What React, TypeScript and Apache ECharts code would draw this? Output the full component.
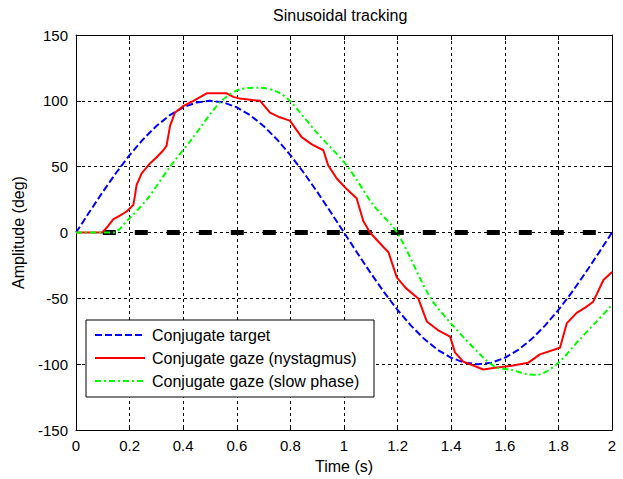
import React, { useEffect, useRef } from "react";
import * as echarts from "echarts";

const TITLE = "Sinusoidal tracking";
const X_LABEL = "Time (s)";
const Y_LABEL = "Amplitude (deg)";
const SERIES_NAMES = [
  "Conjugate target",
  "Conjugate gaze (nystagmus)",
  "Conjugate gaze (slow phase)",
];

const X_MIN = 0;
const X_MAX = 2;
const X_STEP = 0.2;
const Y_MIN = -150;
const Y_MAX = 150;
const Y_STEP = 50;

const targetTime = [
  0, 0.05, 0.1, 0.15, 0.2, 0.25, 0.3, 0.35, 0.4, 0.45, 0.5, 0.55, 0.6, 0.65, 0.7, 0.75, 0.8, 0.85, 0.9, 0.95, 1,
  1.05, 1.1, 1.15, 1.2, 1.25, 1.3, 1.35, 1.4, 1.45, 1.5, 1.55, 1.6, 1.65, 1.7, 1.75, 1.8, 1.85, 1.9, 1.95, 2,
];
const targetValue = [
  0, 15.6, 30.9, 45.4, 58.8, 70.7, 80.9, 89.1, 95.1, 98.8, 100, 98.8, 95.1, 89.1, 80.9, 70.7, 58.8, 45.4, 30.9, 15.6, 0,
  -15.6, -30.9, -45.4, -58.8, -70.7, -80.9, -89.1, -95.1, -98.8, -100, -98.8, -95.1, -89.1, -80.9, -70.7, -58.8, -45.4, -30.9, -15.6, 0,
];

const nystagmusTime = [
  0, 0.098, 0.12, 0.139, 0.165, 0.189, 0.214, 0.22, 0.226, 0.245, 0.276, 0.3, 0.326, 0.338, 0.351, 0.369, 0.4, 0.438,
  0.488, 0.562, 0.587, 0.612, 0.687, 0.724, 0.76, 0.798, 0.842, 0.88, 0.923, 0.941, 0.973, 1.01, 1.047, 1.072, 1.097,
  1.147, 1.166, 1.197, 1.23, 1.277, 1.309, 1.35, 1.396, 1.414, 1.445, 1.52, 1.57, 1.63, 1.688, 1.731, 1.806, 1.831,
  1.868, 1.9, 1.93, 1.968, 2,
];
const nystagmusValue = [
  0, 0, 5, 10, 13, 16, 21, 28, 36, 45, 52.5, 57, 62.5, 66, 81, 91, 96, 100,
  105.7, 105.7, 103, 101.7, 100, 91, 87.5, 85, 72.5, 67, 62.5, 51, 41, 33, 26, 8.7, 0,
  -11, -15, -34, -42, -50, -67.5, -74, -79, -91, -98, -104, -102.5, -101, -98.8, -92.5, -87.5, -69,
  -61, -57, -52.5, -36, -30,
];

const slowTime = [
  0, 0.14, 0.189, 0.264, 0.351, 0.438, 0.537, 0.612, 0.687, 0.75, 0.798, 0.898, 1.01, 1.109, 1.198,
  1.321, 1.408, 1.52, 1.57, 1.62, 1.682, 1.72, 1.794, 1.88, 1.94, 2,
];
const slowValue = [
  0, 0, 8.7, 25, 50, 72.5, 98.8, 108.8, 110, 107, 100, 76, 51, 21, 0,
  -49, -71, -95, -102.5, -104, -107.5, -108, -100, -81, -68, -55,
];

const baselineTime = [0.1, 2];
const baselineValue = [0, 0];

const FONT = '"Liberation Sans", Arial, Helvetica, sans-serif';

const pairs = (xs: number[], ys: number[]) => xs.map((x, i) => [x, ys[i]]);
const fmtX = (v: number) => String(Math.round(v * 10) / 10);

export default function App() {
  const ref = useRef<HTMLDivElement>(null);

  useEffect(() => {
    if (!ref.current) return;
    const chart = echarts.init(ref.current, undefined, { renderer: "svg" });

    const gridLine = { show: true, lineStyle: { color: "#000", width: 1, type: [3, 3] as any } };
    const axisLine = { show: true, onZero: false, lineStyle: { color: "#000", width: 1 } };
    const tick = { show: true, inside: true, length: 5, lineStyle: { color: "#000" } };

    const legendX = 86;
    const legendY = 320;
    const rowY = [335, 358, 381];
    const legendStyles = [
      { stroke: "#0000ff", lineDash: [7, 3] },
      { stroke: "#ff0000", lineDash: null },
      { stroke: "#00ff00", lineDash: [6, 3, 2, 3] },
    ];

    const legendGraphics: any[] = [
      {
        type: "rect",
        shape: { x: legendX, y: legendY, width: 288, height: 77 },
        style: { fill: "#fff", stroke: "#000", lineWidth: 1 },
        z: 100,
      },
    ];
    SERIES_NAMES.forEach((name, i) => {
      legendGraphics.push({
        type: "line",
        shape: { x1: 95, y1: rowY[i], x2: 145, y2: rowY[i] },
        style: { stroke: legendStyles[i].stroke, lineWidth: 2, lineDash: legendStyles[i].lineDash },
        z: 101,
      });
      legendGraphics.push({
        type: "text",
        x: 152,
        y: rowY[i],
        style: {
          text: name,
          fill: "#000",
          font: `16px ${FONT}`,
          textVerticalAlign: "middle",
          verticalAlign: "middle",
        },
        z: 101,
      });
    });

    chart.setOption({
      animation: false,
      backgroundColor: "#fff",
      textStyle: { fontFamily: FONT },
      title: {
        text: TITLE,
        left: 273,
        top: 7,
        padding: 0,
        textStyle: { fontSize: 16, fontWeight: "normal", color: "#000", fontFamily: FONT },
      },
      grid: { left: 76, top: 35, right: 11, bottom: 44, containLabel: false },
      xAxis: [
        {
          type: "value",
          min: X_MIN,
          max: X_MAX,
          interval: X_STEP,
          position: "bottom",
          name: X_LABEL,
          nameLocation: "middle",
          nameGap: 25,
          nameTextStyle: { fontSize: 16, color: "#000", fontFamily: FONT },
          axisLine,
          axisTick: tick,
          axisLabel: { fontSize: 15, color: "#000", margin: 8, formatter: fmtX, fontFamily: FONT },
          splitLine: gridLine,
        },
        {
          type: "value",
          min: X_MIN,
          max: X_MAX,
          interval: X_STEP,
          position: "top",
          axisLine,
          axisTick: tick,
          axisLabel: { show: false },
          splitLine: { show: false },
        },
      ],
      yAxis: [
        {
          type: "value",
          min: Y_MIN,
          max: Y_MAX,
          interval: Y_STEP,
          position: "left",
          name: Y_LABEL,
          nameLocation: "middle",
          nameGap: 50,
          nameTextStyle: { fontSize: 16, color: "#000", fontFamily: FONT },
          axisLine,
          axisTick: tick,
          axisLabel: { fontSize: 15, color: "#000", margin: 8, fontFamily: FONT },
          splitLine: gridLine,
        },
        {
          type: "value",
          min: Y_MIN,
          max: Y_MAX,
          interval: Y_STEP,
          position: "right",
          axisLine,
          axisTick: tick,
          axisLabel: { show: false },
          splitLine: { show: false },
        },
      ],
      series: [
        {
          type: "line",
          name: "baseline",
          data: pairs(baselineTime, baselineValue),
          showSymbol: false,
          symbol: "none",
          lineStyle: { color: "#000", width: 5, type: [13, 19] as any, cap: "butt" },
          z: 2,
        },
        {
          type: "line",
          name: SERIES_NAMES[0],
          data: pairs(targetTime, targetValue),
          symbol: "none",
          smooth: false,
          lineStyle: { color: "#0000ff", width: 2, type: [7, 3] as any },
          z: 3,
        },
        {
          type: "line",
          name: SERIES_NAMES[1],
          data: pairs(nystagmusTime, nystagmusValue),
          symbol: "none",
          lineStyle: { color: "#ff0000", width: 2, type: "solid" },
          z: 4,
        },
        {
          type: "line",
          name: SERIES_NAMES[2],
          data: pairs(slowTime, slowValue),
          symbol: "none",
          smooth: 0.3,
          lineStyle: { color: "#00ff00", width: 2, type: [6, 3, 2, 3] as any },
          z: 5,
        },
      ],
      graphic: legendGraphics,
    });

    return () => chart.dispose();
  }, []);

  return (
    <div
      ref={ref}
      style={{ position: "fixed", left: 0, top: 0, width: 623, height: 479, background: "#fff" }}
    />
  );
}
